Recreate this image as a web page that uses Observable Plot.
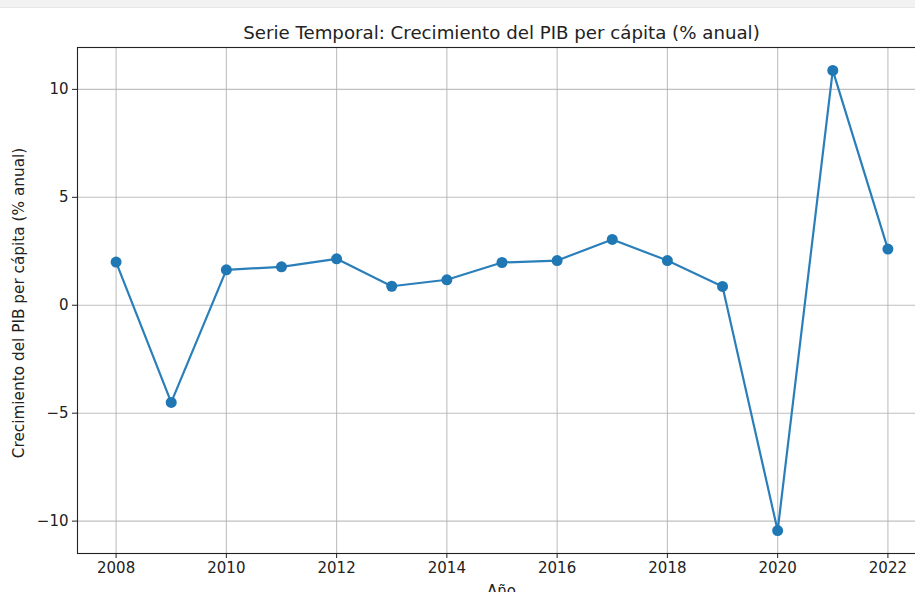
<!DOCTYPE html>
<html>
<head>
<meta charset="utf-8">
<script src="https://cdn.jsdelivr.net/npm/d3@7"></script>
<script src="https://cdn.jsdelivr.net/npm/@observablehq/plot@0.6"></script>
<style>
  html, body { margin: 0; padding: 0; background: #fff; overflow: hidden; }
  #wrap { position: relative; width: 915px; height: 592px; overflow: hidden; font-family: "DejaVu Sans", sans-serif; color: #222; }
  #topbar { position: absolute; left: 0; top: 0; width: 915px; height: 7px; background: #f2f2f2; border-bottom: 1px solid #e6e6e6; }
  #title { position: absolute; left: 0; width: 1003px; top: 22px; text-align: center; font-size: 18.2px; line-height: 22px; color: #222; }
  #ylabel { position: absolute; left: 19px; top: 303px; transform: translate(-50%, -50%) rotate(-90deg); white-space: nowrap; font-size: 15.3px; color: #222; }
  #xlabel { position: absolute; left: 0; width: 1003px; top: 582px; text-align: center; font-size: 15px; color: #222; }
  #chart { position: absolute; left: 0; top: 0; width: 930px; }
  #chart svg { max-width: none !important; }
</style>
</head>
<body>
<div id="wrap">
  <div id="topbar"></div>
  <div id="chart"></div>
  <div id="title">Serie Temporal: Crecimiento del PIB per cápita (% anual)</div>
  <div id="ylabel">Crecimiento del PIB per cápita (% anual)</div>
  <div id="xlabel">Año</div>
</div>
<script>
const years = [2008, 2009, 2010, 2011, 2012, 2013, 2014, 2015, 2016, 2017, 2018, 2019, 2020, 2021, 2022];
const growth = [2.0, -4.5, 1.64, 1.78, 2.15, 0.88, 1.18, 1.98, 2.07, 3.05, 2.07, 0.87, -10.44, 10.88, 2.6];
const xTicks = [2008, 2010, 2012, 2014, 2016, 2018, 2020, 2022];
const yTicks = [-10, -5, 0, 5, 10];

const data = years.map((y, i) => ({year: y, value: growth[i]}));
const fmtY = d => d < 0 ? "\u2212" + Math.abs(d) : String(d);

const chart = Plot.plot({
  width: 930,
  height: 592,
  marginTop: 47,
  marginBottom: 39,
  marginLeft: 77,
  marginRight: 4,
  style: { fontFamily: "DejaVu Sans, sans-serif", fontSize: "15px", color: "#222", background: "transparent", maxWidth: "none" },
  x: { domain: [2007.3, 2022.7], label: null },
  y: { domain: [-11.5, 11.94], label: null },
  marks: [
    Plot.gridX(xTicks, { stroke: "#b0b0b0", strokeOpacity: 0.8, strokeWidth: 1.1 }),
    Plot.gridY(yTicks, { stroke: "#b0b0b0", strokeOpacity: 0.8, strokeWidth: 1.1 }),
    Plot.axisX(xTicks, { tickFormat: d => String(d), tickSize: 5, tickPadding: 4, stroke: "#222", fill: "#222" }),
    Plot.axisY(yTicks, { tickFormat: fmtY, tickSize: 5, tickPadding: 4, stroke: "#222", fill: "#222" }),
    Plot.frame({ stroke: "#222", strokeWidth: 1.1 }),
    Plot.line(data, { x: "year", y: "value", stroke: "#2a7fba", strokeWidth: 2.2 }),
    Plot.dot(data, { x: "year", y: "value", fill: "#1f77b4", r: 5.5 })
  ]
});
chart.style.maxWidth = "none";
document.getElementById("chart").appendChild(chart);
</script>
</body>
</html>
